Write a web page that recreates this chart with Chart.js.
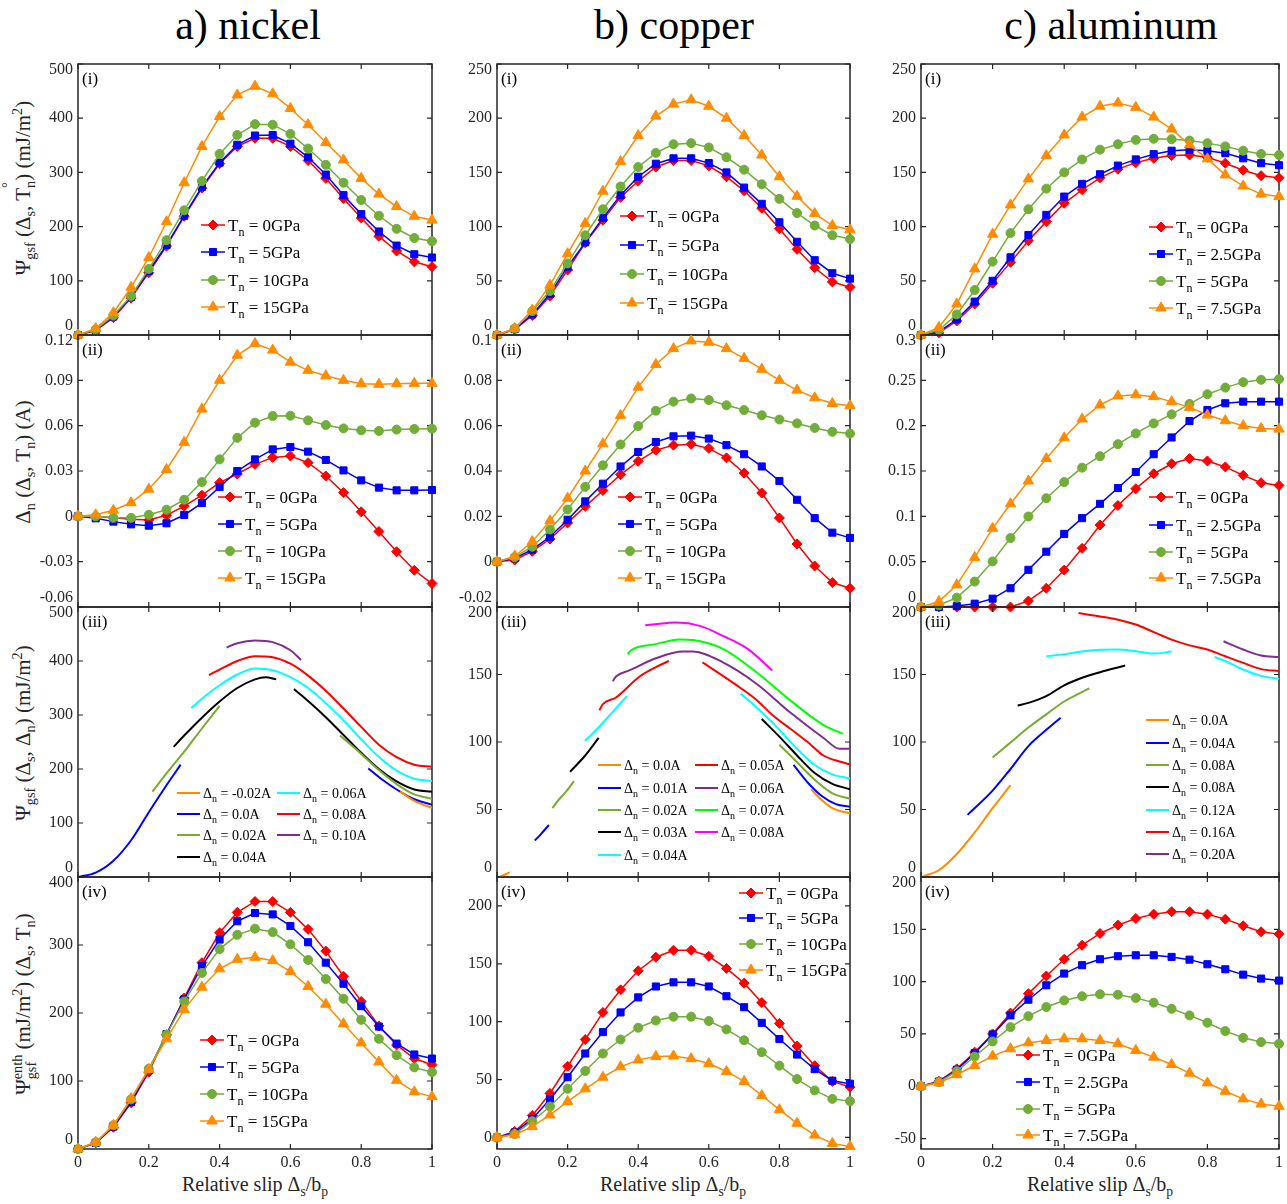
<!DOCTYPE html>
<html>
<head>
<meta charset="utf-8">
<script src="https://cdn.jsdelivr.net/npm/chart.js@4.4.1/dist/chart.umd.min.js"></script>
<style>
  body { margin: 0; background: #fff; }
  #fig { position: relative; width: 1287px; height: 1204px; overflow: hidden; font-family: "Liberation Serif", "Times New Roman", serif; color: #000; }
  canvas { position: absolute; }
  .ttl { position: absolute; top: 2px; font-size: 42px; line-height: 46px; transform: translateX(-50%); white-space: nowrap; }
  .ylab { position: absolute; font-size: 21px; line-height: 1; white-space: nowrap; transform: translate(-50%, -50%) rotate(-90deg); color: #262626; }
  .xlab { position: absolute; top: 1174px; font-size: 20px; line-height: 1; transform: translateX(-50%); white-space: nowrap; color: #262626; }
  sub, sup { font-size: 0.68em; line-height: 0; }
  .stk { display: inline-block; vertical-align: -0.45em; font-size: 0.68em; line-height: 0.95; }
</style>
</head>
<body>
<div id="fig">
  <div class="ttl" style="left:248px">a) nickel</div>
  <div class="ttl" style="left:674px">b) copper</div>
  <div class="ttl" style="left:1111px">c) aluminum</div>

  <div class="ylab" style="left:23px;top:188px">&Psi;<sub>gsf</sub> (&Delta;<sub>s</sub>, T<span style="position:relative"><sub>n</sub><span style="position:absolute;left:0;top:-0.75em;font-size:0.7em">&deg;</span></span>) (mJ/m<sup>2</sup>)</div>
  <div class="ylab" style="left:23px;top:462px">&Delta;<sub>n</sub> (&Delta;<sub>s</sub>, T<sub>n</sub>) (A)</div>
  <div class="ylab" style="left:23px;top:733px">&Psi;<sub>gsf</sub> (&Delta;<sub>s</sub>, &Delta;<sub>n</sub>) (mJ/m<sup>2</sup>)</div>
  <div class="ylab" style="left:25px;top:1004px">&Psi;<span class="stk">enth<br>gsf</span> (mJ/m<sup>2</sup>) (&Delta;<sub>s</sub>, T<sub>n</sub>)</div>

  <div class="xlab" style="left:255px">Relative slip &Delta;<sub>s</sub>/b<sub>p</sub></div>
  <div class="xlab" style="left:673px">Relative slip &Delta;<sub>s</sub>/b<sub>p</sub></div>
  <div class="xlab" style="left:1100px">Relative slip &Delta;<sub>s</sub>/b<sub>p</sub></div>
</div>
<script>
// ---- data -----------------------------------------------------------
const slip = [0, 0.05, 0.1, 0.15, 0.2, 0.25, 0.3, 0.35, 0.4, 0.45, 0.5, 0.55, 0.6, 0.65, 0.7, 0.75, 0.8, 0.85, 0.9, 0.95, 1];
const xTicks = [0, 0.2, 0.4, 0.6, 0.8, 1];
const xTickLabels = ['0', '0.2', '0.4', '0.6', '0.8', '1'];

const tnNiCu = ['0GPa', '5GPa', '10GPa', '15GPa'];
const tnAl = ['0GPa', '2.5GPa', '5GPa', '7.5GPa'];

// nickel
const niPsi0  = [0, 8, 32, 68, 115, 164, 219, 271, 316, 348, 363, 363, 348, 322, 289, 252, 216, 182, 155, 135, 126];
const niPsi5  = [0, 9, 34, 70, 118, 166, 220, 273, 318, 351, 368, 369, 353, 328, 296, 258, 223, 191, 165, 149, 143];
const niPsi10 = [0, 10, 36, 72, 122, 175, 230, 284, 334, 369, 389, 388, 371, 344, 314, 281, 249, 220, 196, 179, 173];
const niPsi15 = [0, 12, 41, 88, 143, 209, 281, 348, 403, 443, 459, 445, 418, 388, 355, 323, 289, 260, 237, 219, 212];

const niDn0  = [0, 0, -0.001, -0.002, -0.0024, 0.0007, 0.0068, 0.014, 0.0223, 0.028, 0.0344, 0.039, 0.040, 0.0355, 0.0267, 0.0157, 0.003, -0.010, -0.0234, -0.0357, -0.0445];
const niDn5  = [0, -0.0013, -0.0035, -0.0053, -0.0062, -0.0046, 0.0009, 0.0088, 0.0194, 0.030, 0.0377, 0.0443, 0.0459, 0.0428, 0.0373, 0.0304, 0.0238, 0.019, 0.0172, 0.0172, 0.0174];
const niDn10 = [0, 0, -0.001, -0.001, 0.001, 0.0044, 0.011, 0.0227, 0.0377, 0.052, 0.062, 0.0664, 0.0666, 0.0635, 0.0604, 0.0582, 0.0569, 0.0565, 0.0574, 0.0578, 0.058];
const niDn15 = [0, 0.001, 0.004, 0.009, 0.018, 0.031, 0.049, 0.071, 0.090, 0.1066, 0.1143, 0.110, 0.102, 0.0966, 0.093, 0.090, 0.0878, 0.0874, 0.0878, 0.088, 0.088];

const niEnth0  = [0, 9, 32, 68, 113, 168, 222, 274, 318, 348, 364, 364, 348, 323, 291, 254, 217, 181, 153, 133, 124];
const niEnth5  = [0, 9, 33, 69, 116, 169, 220, 269, 308, 335, 347, 345, 328, 304, 274, 243, 210, 180, 155, 139, 133];
const niEnth10 = [0, 10, 35, 73, 118, 168, 217, 259, 294, 315, 324, 319, 301, 278, 250, 221, 190, 162, 138, 120, 113];
const niEnth15 = [0, 10, 35, 74, 117, 162, 205, 238, 265, 279, 282, 277, 261, 239, 213, 184, 156, 128, 101, 84, 77];

// copper
const cuPsi0  = [0, 5, 18, 36, 60, 85, 106, 127, 142, 155, 161, 161, 156, 146, 133, 117, 98, 79, 62, 49, 44];
const cuPsi5  = [0, 5.4, 19, 38, 63, 85.5, 108, 129, 146, 158, 163, 163, 158.6, 150, 136, 121, 104, 86, 69, 57, 52];
const cuPsi10 = [0, 6, 22, 40.6, 66, 92, 116, 137, 155, 168, 176, 177, 173, 164, 152.5, 139, 125.6, 112.5, 101, 92, 88.5];
const cuPsi15 = [0, 6, 23, 46, 75, 103, 132.6, 160, 184, 202, 213, 217, 211, 200, 184, 166, 146, 128, 112, 101, 97];

const cuDn0  = [0, 0.0007, 0.0046, 0.010, 0.0171, 0.0244, 0.0314, 0.0384, 0.0443, 0.0492, 0.0514, 0.0518, 0.050, 0.0458, 0.0391, 0.0303, 0.0193, 0.0078, -0.0019, -0.0092, -0.0117];
const cuDn5  = [0, 0.0015, 0.0053, 0.011, 0.0185, 0.0266, 0.0344, 0.042, 0.0484, 0.0528, 0.0553, 0.0556, 0.0543, 0.0514, 0.0474, 0.042, 0.0356, 0.0273, 0.0192, 0.0128, 0.0105];
const cuDn10 = [0, 0.002, 0.0066, 0.0142, 0.023, 0.033, 0.0425, 0.0517, 0.0598, 0.0666, 0.0706, 0.072, 0.0713, 0.069, 0.0669, 0.0646, 0.0627, 0.061, 0.059, 0.0573, 0.0565];
const cuDn15 = [0, 0.0024, 0.0089, 0.018, 0.028, 0.040, 0.052, 0.0645, 0.077, 0.087, 0.094, 0.0974, 0.0968, 0.094, 0.0897, 0.0849, 0.080, 0.0757, 0.0723, 0.0698, 0.0688];

const cuEnth0  = [0, 5.2, 19, 38, 61.5, 84.6, 108, 127.5, 144, 155.7, 161.7, 161.7, 156.5, 146, 133.3, 116.5, 98.5, 79, 62, 48.4, 43.5];
const cuEnth5  = [0, 4.3, 16, 33, 52, 72.5, 91, 108, 121, 130.4, 134, 134, 130.4, 122, 112.5, 99, 85, 71.6, 59, 49, 46.4];
const cuEnth10 = [0, 3, 14, 26.7, 42, 57.4, 72.5, 84.6, 94.8, 101, 104.3, 104.3, 100.6, 93.3, 84, 73.6, 62, 50.4, 40.6, 33.3, 31.3];
const cuEnth15 = [0, 2.3, 9.3, 19.4, 31, 42, 52, 61, 67, 70, 70.4, 68, 63.8, 57, 48.4, 36.2, 24, 12.2, 2, -5.2, -7.8];

// aluminum
const alPsi0  = [0, 2, 13, 28.6, 47.7, 67, 87, 104.6, 121.5, 134, 145, 153, 159, 163, 165.5, 166, 164, 158.5, 152, 147, 145];
const alPsi25 = [0, 3, 14.5, 30.8, 50, 71.7, 92.3, 110.8, 127.7, 139.4, 148.3, 156.3, 162, 166.8, 170, 170.8, 170, 167.7, 163, 158.5, 156.6];
const alPsi5  = [0, 4.6, 19, 41.5, 67.7, 94, 116, 135, 150, 162, 171, 176, 180, 181, 180.6, 179.4, 177, 174, 170, 167, 166];
const alPsi75 = [0, 7, 28.6, 61, 93, 120, 144, 165.5, 184.6, 201, 211, 214, 210, 201, 190, 175.4, 162.5, 147.7, 137.5, 130, 127.7];

const alDn0  = [0, 0, 0, 0, 0, 0, 0.0067, 0.0207, 0.0407, 0.0647, 0.0905, 0.112, 0.1305, 0.147, 0.158, 0.1637, 0.1611, 0.1545, 0.1452, 0.137, 0.1341];
const alDn25 = [0, 0, 0.001, 0.0037, 0.0092, 0.0207, 0.041, 0.061, 0.0806, 0.098, 0.1138, 0.1312, 0.1489, 0.1685, 0.187, 0.2051, 0.2173, 0.2247, 0.2265, 0.2265, 0.2265];
const alDn5  = [0, 0.002, 0.0103, 0.028, 0.0503, 0.0761, 0.0998, 0.12, 0.1378, 0.1537, 0.1663, 0.1796, 0.1914, 0.2025, 0.2125, 0.224, 0.2347, 0.242, 0.248, 0.2506, 0.2513];
const alDn75 = [0, 0.006, 0.0244, 0.0547, 0.0868, 0.1138, 0.139, 0.1637, 0.1866, 0.2073, 0.2228, 0.2328, 0.234, 0.232, 0.2265, 0.2202, 0.2117, 0.2055, 0.2, 0.197, 0.1962];

const alEnth0  = [0, 4.8, 16.6, 32.6, 50, 70, 88.5, 105.4, 121.4, 134.8, 146, 154, 160.4, 164.5, 166.8, 166.8, 164.5, 159.7, 153.4, 147.6, 145.4];
const alEnth25 = [0, 4.5, 15.7, 31.6, 49.5, 67.7, 82.7, 96.5, 107.7, 115.7, 121.4, 124.3, 125.2, 125.2, 123.6, 121, 116.6, 111.8, 106.7, 102.9, 101];
const alEnth5  = [0, 3.8, 14.4, 28.4, 42.8, 56.5, 67, 75.7, 82, 86, 87.9, 87.5, 84.3, 79.9, 74, 67.7, 60.7, 52.7, 46.3, 42.2, 40.6];
const alEnth75 = [0, 3.2, 11, 19.8, 28.8, 35.8, 41.5, 43.8, 45.4, 45.4, 43.8, 40.6, 34.2, 27.8, 20.8, 12.5, 3.2, -4.8, -12.1, -17, -19.2];

// (iii) energy at fixed opening: [slip, psi] pairs, one array per visible segment
const ni3_m002  = [[0.91, 158], [0.95, 141], [1, 128]];
const ni3_000a  = [[0, 0], [0.05, 8], [0.1, 30], [0.15, 68], [0.2, 120], [0.25, 170], [0.29, 208]];
const ni3_000b  = [[0.82, 201], [0.86, 180], [0.9, 162], [0.95, 144], [1, 134]];
const ni3_002a  = [[0.21, 158], [0.25, 192], [0.3, 232], [0.35, 275], [0.4, 317]];
const ni3_002b  = [[0.74, 262], [0.8, 228], [0.85, 198], [0.9, 172], [0.95, 153], [1, 145]];
const ni3_004a  = [[0.27, 241], [0.3, 262], [0.35, 295], [0.4, 325], [0.45, 350], [0.5, 366], [0.53, 370], [0.56, 366]];
const ni3_004b  = [[0.61, 348], [0.65, 326], [0.7, 296], [0.75, 263], [0.8, 230], [0.85, 200], [0.9, 177], [0.95, 162], [1, 158]];
const ni3_006   = [[0.32, 313], [0.35, 330], [0.4, 355], [0.45, 375], [0.5, 386], [0.55, 383], [0.6, 370], [0.65, 350], [0.7, 322], [0.75, 290], [0.8, 255], [0.85, 222], [0.9, 197], [0.95, 182], [1, 178]];
const ni3_008   = [[0.37, 374], [0.4, 384], [0.45, 400], [0.5, 409], [0.55, 407], [0.6, 395], [0.65, 373], [0.7, 345], [0.75, 312], [0.8, 278], [0.85, 245], [0.9, 222], [0.95, 208], [1, 204]];
const ni3_010   = [[0.42, 425], [0.45, 433], [0.5, 438], [0.55, 435], [0.6, 420], [0.63, 402]];

const cu3_000a = [[0.005, 0], [0.02, 1.5], [0.036, 3.4]];
const cu3_000b = [[0.89, 65], [0.92, 57], [0.95, 51], [1, 47]];
const cu3_001a = [[0.107, 27], [0.125, 32], [0.147, 38.5]];
const cu3_001b = [[0.84, 83], [0.88, 70], [0.92, 60], [0.96, 54], [1, 52]];
const cu3_002a = [[0.157, 51], [0.171, 56], [0.195, 63], [0.218, 71]];
const cu3_002b = [[0.80, 98], [0.85, 85], [0.9, 72], [0.95, 62], [1, 58]];
const cu3_003a = [[0.207, 78], [0.25, 90], [0.288, 103]];
const cu3_003b = [[0.75, 117], [0.8, 104], [0.85, 90], [0.9, 77], [0.95, 69], [1, 65]];
const cu3_004a = [[0.249, 101], [0.27, 106], [0.32, 120], [0.368, 134]];
const cu3_004b = [[0.69, 136], [0.75, 122], [0.8, 109], [0.85, 95], [0.9, 83], [0.95, 76], [1, 73]];
const cu3_005a = [[0.29, 123.5], [0.30, 128], [0.337, 133], [0.404, 148.5], [0.45, 155.5], [0.487, 160]];
const cu3_005b = [[0.582, 159], [0.64, 149], [0.69, 140], [0.736, 131], [0.78, 120], [0.83, 110], [0.88, 100], [0.925, 90], [0.97, 85.5], [1, 83.5]];
const cu3_006  = [[0.328, 145], [0.337, 148.5], [0.375, 153], [0.45, 162], [0.527, 167], [0.555, 167], [0.64, 159], [0.736, 143], [0.83, 122], [0.925, 103], [0.97, 95], [1, 95]];
const cu3_007  = [[0.37, 165], [0.38, 168], [0.45, 172.5], [0.517, 176], [0.555, 175.5], [0.64, 169], [0.736, 151.5], [0.83, 131], [0.925, 112.5], [0.98, 106]];
const cu3_008  = [[0.42, 186.5], [0.44, 187], [0.508, 188.5], [0.575, 186], [0.64, 178.6], [0.71, 169], [0.78, 153]];

const al3_000  = [[0.007, 0.6], [0.05, 5], [0.1, 17], [0.15, 33], [0.2, 51], [0.25, 68]];
const al3_004  = [[0.13, 46], [0.2, 64], [0.25, 80], [0.3, 97], [0.35, 109], [0.39, 118]];
const al3_008a = [[0.2, 88.5], [0.25, 99.6], [0.3, 110.7], [0.35, 120.5], [0.4, 130], [0.47, 139.7]];
const al3_008b = [[0.27, 127], [0.3, 129], [0.35, 134], [0.4, 142], [0.45, 147.6], [0.5, 151.7], [0.57, 156.6]];
const al3_012a = [[0.35, 163.5], [0.4, 165], [0.45, 167], [0.5, 168.3], [0.55, 168.5], [0.6, 167.3], [0.65, 165.5], [0.7, 167]];
const al3_012b = [[0.82, 163], [0.85, 160], [0.9, 153.7], [0.95, 149], [1, 146.8]];
const al3_016  = [[0.44, 195.5], [0.5, 193], [0.55, 190.6], [0.6, 187], [0.65, 181.4], [0.7, 175.8], [0.75, 171.6], [0.8, 168.5], [0.85, 163.5], [0.9, 158.6], [0.95, 154], [1, 152.5]];
const al3_020  = [[0.845, 174.6], [0.9, 168.5], [0.95, 164], [1, 163]];

// ---- styling --------------------------------------------------------
const RED = '#ff0000', BLUE = '#0000ff', GREEN = '#72ad3a', ORANGE = '#ff8c00';
const AXIS = '#262626';
const FONT = '"Liberation Serif", "Times New Roman", serif';
const MARKS = [
  { color: RED, style: 'rectRot', r: 5 },
  { color: BLUE, style: 'rect', r: 5 },
  { color: GREEN, style: 'circle', r: 4.5 },
  { color: ORANGE, style: 'triangle', r: 6 }
];

const COLS = [{ left: 78, right: 432 }, { left: 497, right: 850 }, { left: 921, right: 1279 }];
const ROWS = [{ top: 64, bottom: 335 }, { top: 335, bottom: 607 }, { top: 607, bottom: 877 }, { top: 877, bottom: 1149 }];
const ML = 72, MR = 14, MT = 14, TICK = 5;

function tnPanel(series, labels) {
  return series.map((vals, i) => ({ label: labels[i], vals, ...MARKS[i] }));
}

const panels = [
  { col: 0, row: 0, tag: '(i)', yMin: 0, yMax: 500, yTicks: [0, 100, 200, 300, 400, 500], yLabels: ['0', '100', '200', '300', '400', '500'],
    marks: tnPanel([niPsi0, niPsi5, niPsi10, niPsi15], tnNiCu), leg: { x: [201], rows: [225, 252, 280, 307] } },
  { col: 0, row: 1, tag: '(ii)', yMin: -0.06, yMax: 0.12, yTicks: [-0.06, -0.03, 0, 0.03, 0.06, 0.09, 0.12], yLabels: ['-0.06', '-0.03', '0', '0.03', '0.06', '0.09', '0.12'],
    marks: tnPanel([niDn0, niDn5, niDn10, niDn15], tnNiCu), leg: { x: [218], rows: [497, 524, 551, 578] } },
  { col: 0, row: 2, tag: '(iii)', yMin: 0, yMax: 500, yTicks: [0, 100, 200, 300, 400, 500], yLabels: ['0', '100', '200', '300', '400', '500'],
    curves: [
      { label: '-0.02A', color: ORANGE, segs: [ni3_m002] },
      { label: '0.0A', color: BLUE, segs: [ni3_000a, ni3_000b] },
      { label: '0.02A', color: '#77ac30', segs: [ni3_002a, ni3_002b] },
      { label: '0.04A', color: '#000000', segs: [ni3_004a, ni3_004b] },
      { label: '0.06A', color: '#00ffff', segs: [ni3_006] },
      { label: '0.08A', color: RED, segs: [ni3_008] },
      { label: '0.10A', color: '#7e2f8e', segs: [ni3_010] }
    ], leg: { x: [177, 277], rows: [793, 814, 835, 857] } },
  { col: 0, row: 3, tag: '(iv)', yMin: 0, yMax: 400, yTicks: [0, 100, 200, 300, 400], yLabels: ['0', '100', '200', '300', '400'],
    marks: tnPanel([niEnth0, niEnth5, niEnth10, niEnth15], tnNiCu), leg: { x: [200], rows: [1040, 1067, 1094, 1121] } },

  { col: 1, row: 0, tag: '(i)', yMin: 0, yMax: 250, yTicks: [0, 50, 100, 150, 200, 250], yLabels: ['0', '50', '100', '150', '200', '250'],
    marks: tnPanel([cuPsi0, cuPsi5, cuPsi10, cuPsi15], tnNiCu), leg: { x: [620], rows: [216, 245, 274, 303] } },
  { col: 1, row: 1, tag: '(ii)', yMin: -0.02, yMax: 0.1, yTicks: [-0.02, 0, 0.02, 0.04, 0.06, 0.08, 0.1], yLabels: ['-0.02', '0', '0.02', '0.04', '0.06', '0.08', '0.1'],
    marks: tnPanel([cuDn0, cuDn5, cuDn10, cuDn15], tnNiCu), leg: { x: [618], rows: [497, 524, 551, 578] } },
  { col: 1, row: 2, tag: '(iii)', yMin: 0, yMax: 200, yTicks: [0, 50, 100, 150, 200], yLabels: ['0', '50', '100', '150', '200'],
    curves: [
      { label: '0.0A', color: ORANGE, segs: [cu3_000a, cu3_000b] },
      { label: '0.01A', color: BLUE, segs: [cu3_001a, cu3_001b] },
      { label: '0.02A', color: '#77ac30', segs: [cu3_002a, cu3_002b] },
      { label: '0.03A', color: '#000000', segs: [cu3_003a, cu3_003b] },
      { label: '0.04A', color: '#00ffff', segs: [cu3_004a, cu3_004b] },
      { label: '0.05A', color: RED, segs: [cu3_005a, cu3_005b] },
      { label: '0.06A', color: '#7e2f8e', segs: [cu3_006] },
      { label: '0.07A', color: '#00ff00', segs: [cu3_007] },
      { label: '0.08A', color: '#ff00ff', segs: [cu3_008] }
    ], leg: { x: [598, 695], rows: [765, 788, 810, 832, 855] } },
  { col: 1, row: 3, tag: '(iv)', yMin: -10, yMax: 225, yTicks: [0, 50, 100, 150, 200], yLabels: ['0', '50', '100', '150', '200'],
    marks: tnPanel([cuEnth0, cuEnth5, cuEnth10, cuEnth15], tnNiCu), leg: { x: [739], rows: [893, 918, 944, 970] } },

  { col: 2, row: 0, tag: '(i)', yMin: 0, yMax: 250, yTicks: [0, 50, 100, 150, 200, 250], yLabels: ['0', '50', '100', '150', '200', '250'],
    marks: tnPanel([alPsi0, alPsi25, alPsi5, alPsi75], tnAl), leg: { x: [1149], rows: [227, 254, 281, 308] } },
  { col: 2, row: 1, tag: '(ii)', yMin: 0, yMax: 0.3, yTicks: [0, 0.05, 0.1, 0.15, 0.2, 0.25, 0.3], yLabels: ['0', '0.05', '0.1', '0.15', '0.2', '0.25', '0.3'],
    marks: tnPanel([alDn0, alDn25, alDn5, alDn75], tnAl), leg: { x: [1149], rows: [497, 525, 552, 578] } },
  { col: 2, row: 2, tag: '(iii)', yMin: 0, yMax: 200, yTicks: [0, 50, 100, 150, 200], yLabels: ['0', '50', '100', '150', '200'],
    curves: [
      { label: '0.0A', color: ORANGE, segs: [al3_000] },
      { label: '0.04A', color: BLUE, segs: [al3_004] },
      { label: '0.08A', color: '#77ac30', segs: [al3_008a] },
      { label: '0.08A', color: '#000000', segs: [al3_008b] },
      { label: '0.12A', color: '#00ffff', segs: [al3_012a, al3_012b] },
      { label: '0.16A', color: RED, segs: [al3_016] },
      { label: '0.20A', color: '#7e2f8e', segs: [al3_020] }
    ], leg: { x: [1146], rows: [720, 743, 765, 787, 810, 832, 854] } },
  { col: 2, row: 3, tag: '(iv)', yMin: -60, yMax: 200, yTicks: [-50, 0, 50, 100, 150, 200], yLabels: ['-50', '0', '50', '100', '150', '200'],
    marks: tnPanel([alEnth0, alEnth25, alEnth5, alEnth75], tnAl), leg: { x: [1016], rows: [1055, 1082, 1109, 1135] } }
];

// ---- drawing helpers ------------------------------------------------
function drawMarker(ctx, style, x, y, r, color) {
  ctx.save();
  ctx.fillStyle = color; ctx.strokeStyle = color; ctx.lineWidth = 1;
  ctx.beginPath();
  if (style === 'circle') ctx.arc(x, y, r, 0, Math.PI * 2);
  else if (style === 'rect') { const s = r * Math.SQRT1_2; ctx.rect(x - s, y - s, 2 * s, 2 * s); }
  else if (style === 'rectRot') { ctx.moveTo(x - r, y); ctx.lineTo(x, y - r); ctx.lineTo(x + r, y); ctx.lineTo(x, y + r); ctx.closePath(); }
  else { ctx.moveTo(x, y - r); ctx.lineTo(x + 0.866 * r, y + 0.5 * r); ctx.lineTo(x - 0.866 * r, y + 0.5 * r); ctx.closePath(); }
  ctx.fill(); ctx.stroke();
  ctx.restore();
}

function drawSubText(ctx, x, y, main, sub, rest, size) {
  ctx.textAlign = 'left';
  ctx.textBaseline = 'alphabetic';
  ctx.fillStyle = '#000';
  const base = y + size * 0.33;
  ctx.font = size + 'px ' + FONT;
  ctx.fillText(main, x, base); x += ctx.measureText(main).width;
  ctx.font = Math.round(size * 0.7) + 'px ' + FONT;
  ctx.fillText(sub, x, base + size * 0.32); x += ctx.measureText(sub).width;
  ctx.font = size + 'px ' + FONT;
  ctx.fillText(rest, x, base);
}

function framePlugin(pn, offX, offY) {
  return {
    id: 'frame',
    beforeDatasetsDraw(chart) {
      const { ctx, chartArea: a, scales: { x, y } } = chart;
      ctx.save();
      ctx.strokeStyle = AXIS;
      ctx.lineWidth = 1.5;
      ctx.strokeRect(a.left, a.top, a.right - a.left, a.bottom - a.top);
      ctx.lineWidth = 1.2;
      ctx.beginPath();
      xTicks.forEach(v => {
        const px = x.getPixelForValue(v);
        ctx.moveTo(px, a.bottom); ctx.lineTo(px, a.bottom - TICK);
        ctx.moveTo(px, a.top); ctx.lineTo(px, a.top + TICK);
      });
      pn.yTicks.forEach(v => {
        const py = y.getPixelForValue(v);
        ctx.moveTo(a.left, py); ctx.lineTo(a.left + TICK, py);
        ctx.moveTo(a.right, py); ctx.lineTo(a.right - TICK, py);
      });
      ctx.stroke();

      // tick labels
      ctx.fillStyle = AXIS;
      ctx.font = '16px ' + FONT;
      ctx.textAlign = 'right';
      ctx.textBaseline = 'middle';
      pn.yTicks.forEach((v, i) => {
        const py = Math.min(Math.max(y.getPixelForValue(v), a.top + 6), a.bottom - 9);
        ctx.fillText(pn.yLabels[i], a.left - 5, py);
      });
      if (pn.row === 3) {
        ctx.textAlign = 'center';
        xTicks.forEach((v, i) => ctx.fillText(xTickLabels[i], x.getPixelForValue(v), a.bottom + 14));
      }
      // panel tag
      ctx.fillStyle = '#000';
      ctx.font = '17px ' + FONT;
      ctx.textAlign = 'left';
      ctx.textBaseline = 'middle';
      ctx.fillText(pn.tag, a.left + 4, a.top + 16);
      ctx.restore();
    },
    afterDatasetsDraw(chart) {
      const ctx = chart.ctx;
      ctx.save();
      if (pn.marks) {
        pn.marks.forEach((m, i) => {
          const lx = pn.leg.x[0] - offX, ly = pn.leg.rows[i] - offY;
          ctx.strokeStyle = m.color; ctx.lineWidth = 1.5;
          ctx.beginPath(); ctx.moveTo(lx, ly); ctx.lineTo(lx + 24, ly); ctx.stroke();
          drawMarker(ctx, m.style, lx + 12, ly, m.r, m.color);
          drawSubText(ctx, lx + 27, ly, 'T', 'n', ' = ' + m.label, 17);
        });
      } else {
        const per = pn.leg.rows.length;
        pn.curves.forEach((c, i) => {
          const lx = pn.leg.x[Math.floor(i / per)] - offX, ly = pn.leg.rows[i % per] - offY;
          ctx.strokeStyle = c.color; ctx.lineWidth = 2;
          ctx.beginPath(); ctx.moveTo(lx, ly); ctx.lineTo(lx + 23, ly); ctx.stroke();
          drawSubText(ctx, lx + 26, ly, '\u0394', 'n', ' = ' + c.label, 14);
        });
      }
      ctx.restore();
    }
  };
}

// ---- build charts ---------------------------------------------------
const fig = document.getElementById('fig');
panels.forEach(pn => {
  const c = COLS[pn.col], r = ROWS[pn.row];
  const mb = pn.row === 3 ? 30 : 14;
  const w = (c.right - c.left) + ML + MR, h = (r.bottom - r.top) + MT + mb;
  const offX = c.left - ML, offY = r.top - MT;
  const cv = document.createElement('canvas');
  cv.width = w; cv.height = h;
  cv.style.left = offX + 'px'; cv.style.top = offY + 'px';
  cv.style.width = w + 'px'; cv.style.height = h + 'px';
  fig.appendChild(cv);

  let datasets;
  if (pn.marks) {
    datasets = pn.marks.map((m, i) => ({
      data: slip.map((s, k) => ({ x: s, y: m.vals[k] })),
      borderColor: m.color, backgroundColor: m.color,
      borderWidth: 1.5, pointStyle: m.style, pointRadius: m.r,
      pointBorderWidth: 1, pointBackgroundColor: m.color, pointBorderColor: m.color,
      tension: 0, clip: 10, order: -i
    }));
  } else {
    datasets = [];
    pn.curves.forEach(cu => cu.segs.forEach(seg => datasets.push({
      data: seg.map(p => ({ x: p[0], y: p[1] })),
      borderColor: cu.color, borderWidth: 2, pointRadius: 0,
      cubicInterpolationMode: 'monotone', clip: 4
    })));
  }

  new Chart(cv, {
    type: 'line',
    data: { datasets },
    options: {
      responsive: false, animation: false, devicePixelRatio: 1,
      layout: { padding: { left: ML, right: MR, top: MT, bottom: mb } },
      scales: {
        x: { type: 'linear', min: 0, max: 1, display: false },
        y: { type: 'linear', min: pn.yMin, max: pn.yMax, display: false }
      },
      plugins: { legend: { display: false }, tooltip: { enabled: false } },
      events: []
    },
    plugins: [framePlugin(pn, offX, offY)]
  });
});
</script>
</body>
</html>
